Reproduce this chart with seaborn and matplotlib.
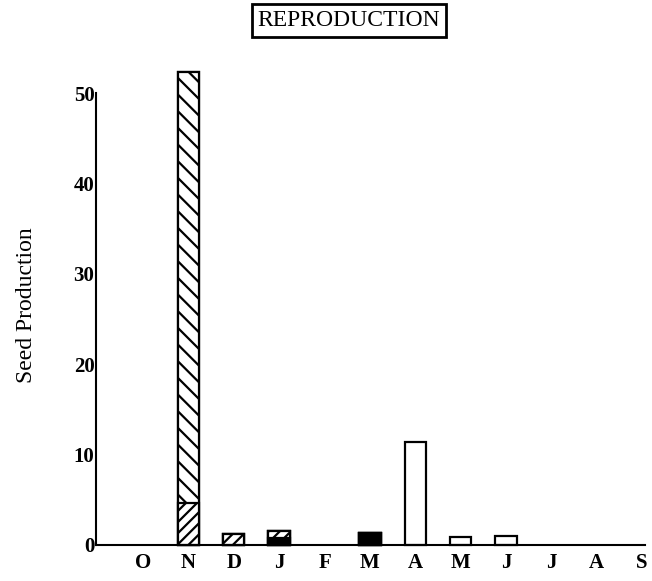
import matplotlib
matplotlib.use("Agg")
import matplotlib.pyplot as plt
import seaborn as sns
import numpy as np
import pandas as pd

months = ["Oct", "Nov", "Dec", "Jan", "Feb", "Mar", "Apr", "May", "Jun", "Jul", "Aug", "Sep"]
tick_labels = ["O", "N", "D", "J", "F", "M", "A", "M", "J", "J", "A", "S"]

# stacked components (bottom -> top)
solid = [0, 0, 0, 0.8, 0, 1.3, 0, 0, 0, 0, 0, 0]
hatch_fwd = [0, 4.6, 1.2, 0.7, 0, 0, 0, 0, 0, 0, 0, 0]
hatch_back = [0, 47.8, 0, 0, 0, 0, 0, 0, 0, 0, 0, 0]
open_part = [0, 0, 0, 0, 0, 0, 11.4, 0.9, 1.0, 0, 0, 0]

sns.set_theme(style="white")
plt.rcParams["font.family"] = ["Liberation Serif", "DejaVu Serif"]
plt.rcParams["hatch.linewidth"] = 1.6
plt.rcParams["hatch.color"] = "black"

fig = plt.figure(figsize=(6.52, 5.81), dpi=100)
ax = fig.add_axes([0.147, 0.062, 0.842, 0.824])

layers = [
    ("solid", solid, dict(color="black", hatch=None)),
    ("fwd", hatch_fwd, dict(color="white", hatch="///")),
    ("back", hatch_back, dict(color="white", hatch="\\\\")),
    ("open", open_part, dict(color="white", hatch=None)),
]
cum = np.cumsum(np.array([l[1] for l in layers], dtype=float), axis=0)

# draw from top layer downwards so lower segments overlay
for i in range(len(layers) - 1, -1, -1):
    name, vals, style = layers[i]
    df = pd.DataFrame({"month": months, "value": cum[i]})
    sns.barplot(data=df, x="month", y="value", order=months, ax=ax,
                color=style["color"], edgecolor="black", linewidth=1.6,
                width=0.47, saturation=1, errorbar=None,
                hatch=style["hatch"], clip_on=False)

for p in ax.patches:
    if p.get_height() == 0:
        p.set_visible(False)

ax.set_xlim(-1.04, 11.06)
ax.set_ylim(0, 53)
ax.set_yticks([0, 10, 20, 30, 40, 50])
ax.set_yticklabels(["0", "10", "20", "30", "40", "50"], fontweight="bold")
ax.set_xticks(range(12))
ax.set_xticklabels(tick_labels, fontweight="bold")
ax.tick_params(axis="both", length=0, labelsize=15, colors="black")
ax.tick_params(axis="x", pad=6)
ax.tick_params(axis="y", pad=1)
ax.set_xlabel("")
ax.set_ylabel("Seed Production", fontsize=17, labelpad=26, color="black")

for s in ["top", "right"]:
    ax.spines[s].set_visible(False)
for s in ["left", "bottom"]:
    ax.spines[s].set_color("black")
    ax.spines[s].set_linewidth(1.5)
ax.spines["left"].set_bounds(0, 50)

fig.text(0.535, 0.965, "REPRODUCTION", ha="center", va="center", fontsize=17,
         color="black",
         bbox=dict(boxstyle="square,pad=0.25", facecolor="white", edgecolor="black", linewidth=2))

fig.savefig("out.png", dpi=100)
